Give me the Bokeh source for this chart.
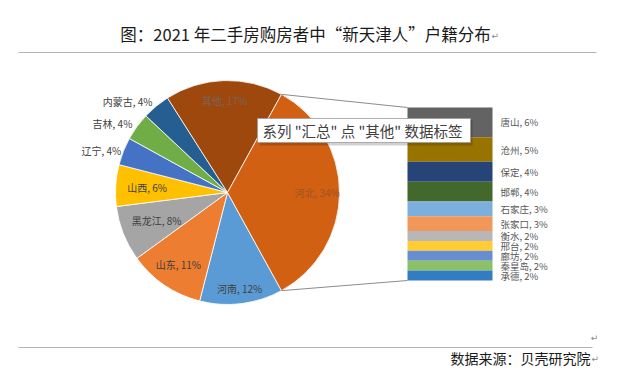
import math
from bokeh.plotting import figure
from bokeh.models import ColumnDataSource, Range1d
from bokeh.core.properties import value
from bokeh.embed import file_html
from bokeh.resources import INLINE

# ---------------- data ----------------
title_text = "图：2021 年二手房购房者中“新天津人”户籍分布"
source_text = "数据来源：贝壳研究院"
tooltip_text = '系列 "汇总" 点 "其他" 数据标签'

pie_labels = ["河南", "山东", "黑龙江", "山西", "辽宁", "吉林", "内蒙古", "其他", "河北"]
pie_values = [12, 11, 8, 6, 4, 4, 4, 17, 34]

bar_labels = ["唐山", "沧州", "保定", "邯郸", "石家庄", "张家口", "衡水", "邢台", "廊坊", "秦皇岛", "承德"]
bar_values = [6, 5, 4, 4, 3, 3, 2, 2, 2, 2, 2]

# ---------------- styles ----------------
pie_colors = ["#5B9BD5", "#ED7D31", "#A5A5A5", "#FFC000", "#4472C4", "#70AD47",
              "#255E91", "#9E480E", "#D26012"]
bar_colors = ["#636363", "#997300", "#264478", "#43682B", "#7CAFDD", "#F1975A",
              "#B7B7B7", "#FFCD33", "#698ED0", "#8CC168", "#327DC2"]
label_rf = [0.86, 0.78, 0.68, 0.72, 1.02, 1.05, 1.05, 0.82, 0.80]
label_align = ["center"] * 4 + ["right"] * 3 + ["center"] * 2
label_color = ["#404040"] * 7 + ["#7a6458", "#9c5522"]

W, H = 640, 375
FONT = "Noto Sans CJK SC"


def Y(py):
    return H - py


p = figure(width=W, height=H, output_backend="svg", toolbar_location=None,
           x_range=Range1d(0, W), y_range=Range1d(0, H),
           x_axis_location=None, y_axis_location=None, min_border=0)
p.grid.visible = False
p.outline_line_color = None
p.background_fill_color = "#ffffff"
p.border_fill_color = "#ffffff"

# ---------------- pie ----------------
cx, cy, R = 227, Y(192), 112
T = float(sum(pie_values))
half = math.pi * pie_values[-1] / T
a0 = -half
starts, ends = [], []
c = 0.0
for v in pie_values[:-1]:
    starts.append(a0 - 2 * math.pi * (c + v) / T)
    ends.append(a0 - 2 * math.pi * c / T)
    c += v
starts.append(-half)
ends.append(half)

pie_src = ColumnDataSource(dict(start=starts, end=ends, color=pie_colors))
p.wedge(x=cx, y=cy, radius=R, start_angle="start", end_angle="end",
        direction="anticlock", fill_color="color", line_color="#ffffff",
        line_width=0.8, source=pie_src)

# pie labels
for lab, v, s, e, rf, al, col in zip(pie_labels, pie_values, starts, ends,
                                     label_rf, label_align, label_color):
    mid = (s + e) / 2
    lx = cx + rf * R * math.cos(mid)
    ly = cy + rf * R * math.sin(mid)
    p.text(x=[lx], y=[ly], text=[f"{lab}, {v}%"], text_align=al,
           text_baseline="middle", text_font=value(FONT), text_font_size="10px",
           text_color=col)

# ---------------- bar ----------------
bx0, bx1 = 407, 492
btop, bbot = Y(107), Y(280)
BT = float(sum(bar_values))
scale = (btop - bbot) / BT
tops, bots = [], []
c = 0.0
for v in bar_values:
    tops.append(btop - c * scale)
    bots.append(btop - (c + v) * scale)
    c += v
bar_src = ColumnDataSource(dict(top=tops, bottom=bots, color=bar_colors))
p.quad(left=bx0, right=bx1, top="top", bottom="bottom", fill_color="color",
       line_color=None, source=bar_src)

for lab, v, t, b in zip(bar_labels, bar_values, tops, bots):
    p.text(x=[bx1 + 8], y=[(t + b) / 2], text=[f"{lab}, {v}%"], text_align="left",
           text_baseline="middle", text_font=value(FONT), text_font_size="9.5px",
           text_color="#595959")

# connector lines
p.segment(x0=[cx + R * math.cos(half), cx + R * math.cos(-half)],
          y0=[cy + R * math.sin(half), cy + R * math.sin(-half)],
          x1=[bx0, bx0], y1=[btop, bbot], line_color="#8c8c8c", line_width=1)

# ---------------- tooltip callout ----------------
p.quad(left=[259], right=[472], top=[Y(120)], bottom=[Y(145)],
       fill_color="#000000", fill_alpha=0.18, line_color=None)
p.quad(left=[257], right=[470], top=[Y(118)], bottom=[Y(142)],
       fill_color="#ffffff", line_color="#9a9a9a", line_width=0.8)
p.text(x=[262], y=[Y(130)], text=[tooltip_text], text_align="left",
       text_baseline="middle", text_font=value(FONT), text_font_size="14.5px",
       text_color="#404040")

# ---------------- title / footer ----------------
p.text(x=[305], y=[Y(33)], text=[title_text], text_align="center",
       text_baseline="middle", text_font=value(FONT), text_font_size="16.5px",
       text_color="#1a1a1a")
p.text(x=[491], y=[Y(35)], text=["↵"], text_align="left", text_baseline="middle",
       text_font=value("DejaVu Sans"), text_font_size="9px", text_color="#888888")
p.segment(x0=[18], y0=[Y(52)], x1=[596], y1=[Y(52)], line_color="#b4b4b4", line_width=1)

p.text(x=[594], y=[Y(337)], text=["↵"], text_align="center", text_baseline="middle",
       text_font=value("DejaVu Sans"), text_font_size="9px", text_color="#888888")
p.segment(x0=[18], y0=[Y(347)], x1=[592], y1=[Y(347)], line_color="#b4b4b4", line_width=1)
p.text(x=[590], y=[Y(357)], text=[source_text], text_align="right",
       text_baseline="middle", text_font=value(FONT), text_font_size="14px",
       text_color="#1a1a1a")
p.text(x=[591], y=[Y(358)], text=["↵"], text_align="left", text_baseline="middle",
       text_font=value("DejaVu Sans"), text_font_size="9px", text_color="#888888")

open("out.html", "w").write(file_html(p, INLINE))
